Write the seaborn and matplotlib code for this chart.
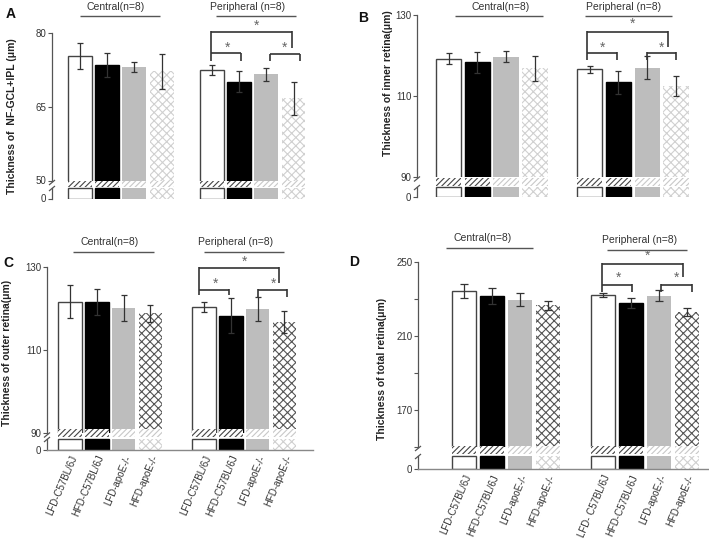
import numpy as np
import pandas as pd
import matplotlib
matplotlib.use("Agg")
import matplotlib.pyplot as plt
import seaborn as sns
from matplotlib.lines import Line2D

sns.set_theme(style="white")
plt.rcParams["font.family"] = ["Liberation Sans", "DejaVu Sans"]
plt.rcParams["hatch.linewidth"] = 0.8

# ---------------- data ----------------
groups = ["LFD-C57BL/6J", "HFD-C57BL/6J", "LFD-apoE-/-", "HFD-apoE-/-"]
groups_d_periph = ["LFD- C57BL/6J", "HFD-C57BL/6J", "LFD-apoE-/-", "HFD-apoE-/-"]
regions = ["Central(n=8)", "Peripheral (n=8)"]

a_central = [75.3, 73.5, 73.1, 72.2]
a_central_sd = [2.7, 2.5, 1.1, 3.5]
a_periph = [72.4, 70.1, 71.6, 66.7]
a_periph_sd = [1.0, 2.1, 1.3, 3.4]

b_central = [119.2, 118.3, 119.7, 116.8]
b_central_sd = [1.3, 2.6, 1.3, 3.0]
b_periph = [116.6, 113.4, 117.0, 112.4]
b_periph_sd = [0.8, 2.8, 2.9, 2.5]

c_central = [121.6, 121.6, 120.1, 118.8]
c_central_sd = [4.0, 3.2, 3.2, 2.0]
c_periph = [120.4, 118.3, 119.9, 116.8]
c_periph_sd = [1.2, 4.3, 2.9, 2.6]

d_central = [234.2, 231.5, 229.5, 226.3]
d_central_sd = [4.0, 4.3, 3.4, 2.3]
d_periph = [232.0, 227.5, 231.5, 223.0]
d_periph_sd = [1.2, 2.7, 3.0, 2.2]

# ---------------- layout (pixels) ----------------
W, H = 709, 542
fig = plt.figure(figsize=(W / 100, H / 100), dpi=100)
fig.patch.set_facecolor("white")

def fx(x):
    return x / W

def fy(y):
    return 1 - y / H

def add_ax(l, t, r, b):
    return fig.add_axes([fx(l), fy(b), (r - l) / W, (b - t) / H])

def fig_line(xs, ys, color="#333333", lw=1.0):
    fig.add_artist(Line2D([fx(x) for x in xs], [fy(y) for y in ys],
                          transform=fig.transFigure, color=color, lw=lw,
                          solid_capstyle="butt"))

TXT = "#333333"
SPINE = "#555555"

panels = [
    dict(letter="A", letter_xy=(6, 14), ylabel="Thickness of  NF-GCL+IPL (\u03bcm)", ylabel_xy=(12, 116),
         spine_x=52, right_px=320, pos0=80, unit=27.2, gap=4.85, up=(33, 180.5), ylim=(50, 80),
         yticks=[80, 65, 50], minor=[], band=(180.5, 187), stub_top=188, zero=198.5, xaxis=False,
         cross="#d0d0d0", cap=2.5,
         glabels=[(116, 7, 80, 160, 16), (248, 7, 216, 296, 16)],
         brackets=[(210.7, 291.7, 31.7, 61, 47.7, 257, 26),
                   (210.7, 240.7, 53.3, None, 61, 228, 48),
                   (270, 300, 54.3, 61, 61, 285, 48)]),
    dict(letter="B", letter_xy=(358, 18), ylabel="Thickness of inner retina(\u03bcm)", ylabel_xy=(388, 83),
         spine_x=417, right_px=705, pos0=448.5, unit=28.8, gap=4.9, up=(15, 177), ylim=(90, 130),
         yticks=[130, 110, 90], minor=[], band=(177.5, 185.5), stub_top=187, zero=197, xaxis=False,
         cross="#d0d0d0", cap=2.5,
         glabels=[(501, 7, 455, 543, 16), (624, 7, 585, 672, 16)],
         brackets=[(587, 668, 32, 60, 47, 633, 24),
                   (587, 617, 53, None, 60, 603, 48),
                   (647, 676, 53, 60, 60, 662, 48)]),
    dict(letter="C", letter_xy=(3, 263), ylabel="Thickness of outer retina(\u03bcm)", ylabel_xy=(7, 353),
         spine_x=47, right_px=313, pos0=70, unit=26.8, gap=5.0, up=(267, 433), ylim=(90, 130),
         yticks=[130, 110, 90], minor=[], band=(428.5, 437), stub_top=439, zero=449.5, xaxis=True,
         cross="#555555", cap=2.5,
         glabels=[(110, 242, 73, 154, 252), (236, 242, 204, 284, 252)],
         brackets=[(199, 279, 268, 295, 283, 245, 262),
                   (199, 229, 290, None, 295, 216, 284),
                   (258, 287, 290, 297, 297, 274, 284)]),
    dict(letter="D", letter_xy=(349, 262), ylabel="Thickness of total retina(\u03bcm)", ylabel_xy=(382, 369),
         spine_x=418, right_px=708, pos0=464, unit=28.0, gap=4.96, up=(261.7, 446.5), ylim=(150, 250),
         yticks=[250, 210, 170], minor=[230, 190, 150], band=(445.5, 453.5), stub_top=456, zero=469,
         xaxis=True, cross="#555555", cap=3.0,
         glabels=[(483, 238, 446, 533, 248), (640, 240, 607, 687, 250)],
         brackets=[(602, 683, 264, 292, 277, 648, 256),
                   (602, 632, 285, None, 292, 619, 278),
                   (661, 692, 285, 292, 292, 677, 278)]),
]

panel_data = [
    (a_central, a_central_sd, a_periph, a_periph_sd, None),
    (b_central, b_central_sd, b_periph, b_periph_sd, None),
    (c_central, c_central_sd, c_periph, c_periph_sd, groups + groups),
    (d_central, d_central_sd, d_periph, d_periph_sd, groups + groups_d_periph),
]

BAR_W = 0.88


def style_bars(ax, cross_color):
    bars = sorted(ax.patches, key=lambda b: b.get_x())
    for i, b in enumerate(bars):
        g = i % 4
        if g == 0:
            b.set_facecolor("white"); b.set_edgecolor("#444444"); b.set_linewidth(1.0)
        elif g == 1:
            b.set_facecolor("black"); b.set_edgecolor("black"); b.set_linewidth(1.0)
        elif g == 2:
            b.set_facecolor("#bdbdbd"); b.set_edgecolor("#bdbdbd"); b.set_linewidth(0)
        else:
            b.set_facecolor("white"); b.set_edgecolor(cross_color); b.set_linewidth(0)
            b.set_hatch("xxxx")


for p, (cen, cen_sd, per, per_sd, xlabels) in zip(panels, panel_data):
    pos = np.r_[np.arange(4), np.arange(4) + p["gap"]]
    vals = np.r_[cen, per]
    sds = np.r_[cen_sd, per_sd]
    df = pd.DataFrame({"pos": pos, "value": vals, "group": groups * 2})
    xl = ((p["spine_x"] - p["pos0"]) / p["unit"], (p["right_px"] - p["pos0"]) / p["unit"])

    # ---- upper (main) axis ----
    up_t, up_b = p["up"]
    ax = add_ax(p["spine_x"], up_t, p["right_px"], up_b)
    sns.barplot(data=df, x="pos", y="value", native_scale=True, width=BAR_W,
                color="white", errorbar=None, ax=ax)
    style_bars(ax, p["cross"])
    ax.errorbar(pos, vals, yerr=sds, fmt="none", ecolor="#333333", elinewidth=0.9,
                capsize=p["cap"], capthick=0.9, zorder=5)
    ax.set_xlim(xl)
    ax.set_ylim(p["ylim"])
    ax.set_yticks(p["yticks"])
    ax.set_yticklabels([str(t) for t in p["yticks"]])
    if p["minor"]:
        ax.set_yticks(p["minor"], minor=True)
    ax.set_xticks([])
    ax.set_xlabel("")
    ax.set_ylabel("")
    for s in ["top", "right", "bottom"]:
        ax.spines[s].set_visible(False)
    ax.spines["left"].set_color(SPINE)
    ax.spines["left"].set_linewidth(0.9)
    ax.tick_params(axis="y", which="both", left=True, length=3, width=0.8, color=SPINE,
                   labelsize=7, labelcolor=TXT, pad=1)
    ax.patch.set_visible(False)

    # ---- lower (stub) axis ----
    band_t, band_b = p["band"]
    zero = p["zero"]
    lax = add_ax(p["spine_x"], band_t, p["right_px"], zero)
    span = zero - band_t
    stub_s = 10 * (zero - p["stub_top"]) / span
    band_lo = 10 * (zero - band_b) / span
    df_low = df.assign(value=np.minimum(vals, stub_s))
    sns.barplot(data=df_low, x="pos", y="value", native_scale=True, width=BAR_W,
                color="white", errorbar=None, ax=lax)
    style_bars(lax, "#d0d0d0")
    band_cols = ["#444444", "#444444", "#c8c8c8", "#c8c8c8"] * 2
    lax.bar(pos, 10 - band_lo, bottom=band_lo, width=BAR_W, color="white",
            edgecolor=band_cols, hatch="//////", linewidth=0)
    lax.set_xlim(xl)
    lax.set_ylim(0, 10)
    lax.set_yticks([0])
    lax.set_yticklabels(["0"])
    lax.set_xlabel("")
    lax.set_ylabel("")
    for s in ["top", "right"]:
        lax.spines[s].set_visible(False)
    lax.spines["left"].set_bounds(0, stub_s)
    lax.spines["left"].set_color(SPINE)
    lax.spines["left"].set_linewidth(0.9)
    lax.tick_params(axis="y", left=True, length=3, width=0.8, color=SPINE,
                    labelsize=7, labelcolor=TXT, pad=1)
    lax.patch.set_visible(False)
    if p["xaxis"]:
        lax.spines["bottom"].set_color("#888888")
        lax.spines["bottom"].set_linewidth(1.0)
        lax.set_xticks(pos)
        lax.set_xticklabels(xlabels, rotation=67, ha="right", rotation_mode="anchor",
                            fontsize=7, color=TXT)
        lax.tick_params(axis="x", bottom=True, length=0, pad=3)
    else:
        lax.spines["bottom"].set_visible(False)
        lax.set_xticks([])

    # ---- axis break marks ----
    sx = p["spine_x"]
    for cy in (up_b + 2.0, p["stub_top"] + 0.5):
        fig_line([sx - 3, sx + 3], [cy + 2.5, cy - 2.5], color=SPINE, lw=0.9)

    # ---- texts ----
    fig.text(fx(p["letter_xy"][0]), fy(p["letter_xy"][1]), p["letter"], fontsize=10,
             fontweight="bold", color="#111111", ha="left", va="center")
    fig.text(fx(p["ylabel_xy"][0]), fy(p["ylabel_xy"][1]), p["ylabel"], fontsize=7.5,
             fontweight="bold", color="#222222", rotation=90, ha="center", va="center")
    for (cx, cy, x0, x1, ly), name in zip(p["glabels"], regions):
        fig.text(fx(cx), fy(cy), name, fontsize=7.5, color=TXT, ha="center", va="center")
        fig_line([x0, x1], [ly, ly], color="#555555", lw=1.0)

    # ---- significance brackets ----
    for (x0, x1, by, l0, l1, stx, sty) in p["brackets"]:
        fig_line([x0, x1], [by, by], color="#333333", lw=1.2)
        if l0 is not None:
            fig_line([x0, x0], [by - 0.6, l0], color="#333333", lw=1.2)
        fig_line([x1, x1], [by - 0.6, l1], color="#333333", lw=1.2)
        fig.text(fx(stx), fy(sty), "*", fontsize=10, color="#666666", ha="center", va="center")

fig.savefig("out.png", dpi=100, facecolor="white")
